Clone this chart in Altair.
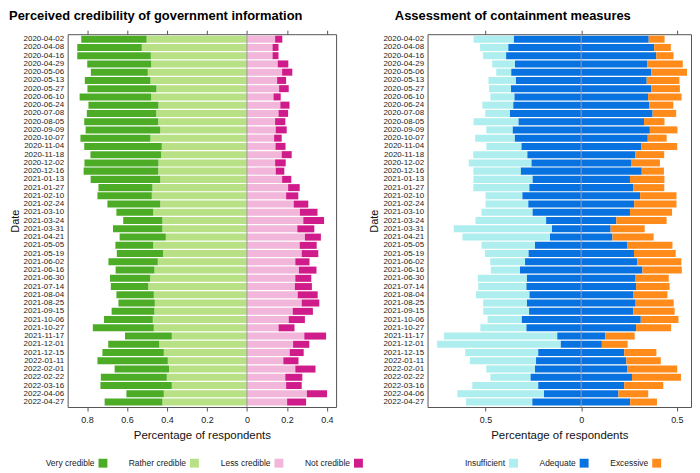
import altair as alt
import pandas as pd

dates = ["2020-04-02", "2020-04-08", "2020-04-16", "2020-04-29", "2020-05-06", "2020-05-13",
         "2020-05-27", "2020-06-10", "2020-06-24", "2020-07-08", "2020-08-05", "2020-09-09",
         "2020-10-07", "2020-11-04", "2020-11-18", "2020-12-02", "2020-12-16", "2021-01-13",
         "2021-01-27", "2021-02-10", "2021-02-24", "2021-03-10", "2021-03-24", "2021-03-31",
         "2021-04-21", "2021-05-05", "2021-05-19", "2021-06-02", "2021-06-16", "2021-06-30",
         "2021-07-14", "2021-08-04", "2021-08-25", "2021-09-15", "2021-10-06", "2021-10-27",
         "2021-11-17", "2021-12-01", "2021-12-15", "2022-01-11", "2022-02-01", "2022-02-22",
         "2022-03-16", "2022-04-06", "2022-04-27"]

very_credible = [0.327, 0.323, 0.368, 0.320, 0.285, 0.328, 0.345, 0.358, 0.350, 0.347, 0.370, 0.373,
                 0.350, 0.388, 0.353, 0.370, 0.373, 0.348, 0.270, 0.272, 0.264, 0.184, 0.196, 0.247,
                 0.231, 0.189, 0.231, 0.247, 0.194, 0.201, 0.187, 0.187, 0.182, 0.214, 0.244, 0.305,
                 0.234, 0.255, 0.307, 0.352, 0.272, 0.330, 0.357, 0.187, 0.289]
rather_credible = [0.502, 0.526, 0.481, 0.479, 0.496, 0.483, 0.453, 0.479, 0.443, 0.454, 0.444, 0.434,
                   0.483, 0.426, 0.430, 0.443, 0.444, 0.434, 0.473, 0.476, 0.434, 0.469, 0.423, 0.423,
                   0.406, 0.469, 0.420, 0.446, 0.463, 0.484, 0.494, 0.466, 0.461, 0.463, 0.471, 0.466,
                   0.376, 0.439, 0.416, 0.396, 0.390, 0.401, 0.376, 0.416, 0.423]
less_credible = [0.141, 0.128, 0.128, 0.154, 0.176, 0.151, 0.161, 0.133, 0.167, 0.158, 0.141, 0.144,
                 0.136, 0.143, 0.174, 0.141, 0.144, 0.176, 0.206, 0.196, 0.234, 0.265, 0.282, 0.252,
                 0.290, 0.264, 0.274, 0.242, 0.260, 0.242, 0.240, 0.254, 0.274, 0.229, 0.209, 0.158,
                 0.287, 0.231, 0.214, 0.182, 0.242, 0.192, 0.196, 0.300, 0.201]
not_credible = [0.036, 0.030, 0.030, 0.053, 0.051, 0.045, 0.048, 0.036, 0.046, 0.048, 0.051, 0.055,
                0.038, 0.050, 0.050, 0.053, 0.043, 0.046, 0.058, 0.061, 0.073, 0.088, 0.104, 0.085,
                0.080, 0.085, 0.083, 0.071, 0.088, 0.080, 0.085, 0.100, 0.088, 0.101, 0.081, 0.080,
                0.109, 0.081, 0.070, 0.076, 0.101, 0.085, 0.078, 0.101, 0.095]

insufficient = [0.209, 0.147, 0.121, 0.119, 0.078, 0.142, 0.114, 0.125, 0.161, 0.128, 0.234, 0.137,
                0.206, 0.183, 0.282, 0.327, 0.247, 0.308, 0.292, 0.192, 0.223, 0.266, 0.369, 0.512,
                0.457, 0.279, 0.227, 0.182, 0.152, 0.256, 0.251, 0.279, 0.228, 0.239, 0.178, 0.240,
                0.592, 0.645, 0.381, 0.346, 0.254, 0.209, 0.344, 0.453, 0.346]
adequate = [0.706, 0.763, 0.785, 0.692, 0.732, 0.685, 0.734, 0.699, 0.711, 0.747, 0.657, 0.718,
            0.696, 0.626, 0.564, 0.521, 0.633, 0.510, 0.543, 0.616, 0.554, 0.510, 0.367, 0.308,
            0.327, 0.484, 0.552, 0.587, 0.640, 0.569, 0.574, 0.542, 0.569, 0.545, 0.623, 0.574,
            0.251, 0.216, 0.450, 0.472, 0.484, 0.531, 0.450, 0.389, 0.512]
excessive = [0.083, 0.087, 0.090, 0.185, 0.187, 0.171, 0.149, 0.175, 0.126, 0.123, 0.107, 0.144,
             0.099, 0.189, 0.152, 0.151, 0.116, 0.180, 0.163, 0.190, 0.221, 0.220, 0.263, 0.178,
             0.215, 0.235, 0.218, 0.230, 0.206, 0.173, 0.175, 0.180, 0.199, 0.216, 0.197, 0.183,
             0.154, 0.135, 0.168, 0.180, 0.260, 0.256, 0.204, 0.156, 0.140]

cred_cats = ["Very credible", "Rather credible", "Less credible", "Not credible"]
cred_colors = ["#4DAC26", "#B8E186", "#F1B6DA", "#D01C8B"]
cont_cats = ["Insufficient", "Adequate", "Excessive"]
cont_colors = ["#AEEEEE", "#0872E0", "#FF8C1A"]

FONT = "Liberation Sans"

# diverging segment tables
rows_l = []
for d, v, r, l, n in zip(dates, very_credible, rather_credible, less_credible, not_credible):
    rows_l.append({"date": d, "cat": "Rather credible", "x0": -r, "x1": 0})
    rows_l.append({"date": d, "cat": "Very credible", "x0": -(r + v), "x1": -r})
    rows_l.append({"date": d, "cat": "Less credible", "x0": 0, "x1": l})
    rows_l.append({"date": d, "cat": "Not credible", "x0": l, "x1": l + n})
df_l = pd.DataFrame(rows_l)

rows_r = []
for d, i, a, e in zip(dates, insufficient, adequate, excessive):
    rows_r.append({"date": d, "cat": "Adequate", "x0": -a / 2, "x1": a / 2})
    rows_r.append({"date": d, "cat": "Insufficient", "x0": -a / 2 - i, "x1": -a / 2})
    rows_r.append({"date": d, "cat": "Excessive", "x0": a / 2, "x1": a / 2 + e})
df_r = pd.DataFrame(rows_r)

zero_df = pd.DataFrame({"v": [0.0]})

H = 375


def panel(df, cats, colors, domain, ticks, width, title, title_dx, legend_x):
    xscale = alt.Scale(domain=domain, nice=False, zero=False)
    yscale = alt.Scale(paddingInner=0.15, paddingOuter=0.18)
    bars = alt.Chart(df).mark_bar().encode(
        x=alt.X("x0:Q", scale=xscale,
                axis=alt.Axis(orient="bottom", values=ticks, labelExpr="format(abs(datum.value), '~g')",
                              title="Percentage of respondents", grid=False, domain=False,
                              tickSize=4, tickColor="#555", labelFontSize=9, labelPadding=5,
                              titleFontSize=11.5, titleFontWeight="normal", titlePadding=5)),
        x2="x1:Q",
        y=alt.Y("date:N", sort=dates, scale=yscale,
                axis=alt.Axis(title="Date", ticks=False, domain=False, labelFontSize=8,
                              labelPadding=4, titleFontSize=11, titleFontWeight="normal",
                              titlePadding=3)),
        color=alt.Color("cat:N", scale=alt.Scale(domain=cats, range=colors),
                        legend=alt.Legend(orient="none", legendX=legend_x, legendY=H + 52,
                                          direction="horizontal", title=None, symbolType="square",
                                          symbolSize=80, symbolStrokeWidth=0, labelFontSize=8.5,
                                          labelAlign="right", labelOffset=alt.ExprRef(expr="-13"),
                                          columnPadding=21, padding=0)),
    )
    zero = alt.Chart(zero_df).mark_rule(color="#9a9a9a", strokeWidth=1).encode(
        x=alt.X("v:Q", scale=xscale,
                axis=alt.Axis(orient="top", values=ticks, labels=False, title=None, grid=False,
                              domain=False, tickSize=4, tickColor="#555"))
    )
    return alt.layer(bars, zero).resolve_axis(x="independent").properties(
        width=width, height=H,
        title=alt.TitleParams(title, anchor="start", frame="bounds", dx=title_dx, fontSize=13,
                              fontWeight="bold", font=FONT, offset=7),
    )


left = panel(df_l, cred_cats, cred_colors, [-0.897, 0.446], [-0.8, -0.6, -0.4, -0.2, 0, 0.2, 0.4],
             270, "Perceived credibility of government information", 0, 31)
right = panel(df_r, cont_cats, cont_colors, [-0.803, 0.574], [-0.5, 0, 0.5],
              265, "Assessment of containment measures", 26, 82)

chart = alt.hconcat(left, right, spacing=92, bounds="flush").resolve_scale(color="independent").properties(
    padding=0
).configure(font=FONT).configure_view(stroke="#555", strokeWidth=1).configure_axis(
    labelFont=FONT, titleFont=FONT, labelColor="#222", titleColor="#111"
).configure_legend(labelFont=FONT, labelColor="#222")

chart.save("out.html", embed_options={"renderer": "svg", "actions": False})
